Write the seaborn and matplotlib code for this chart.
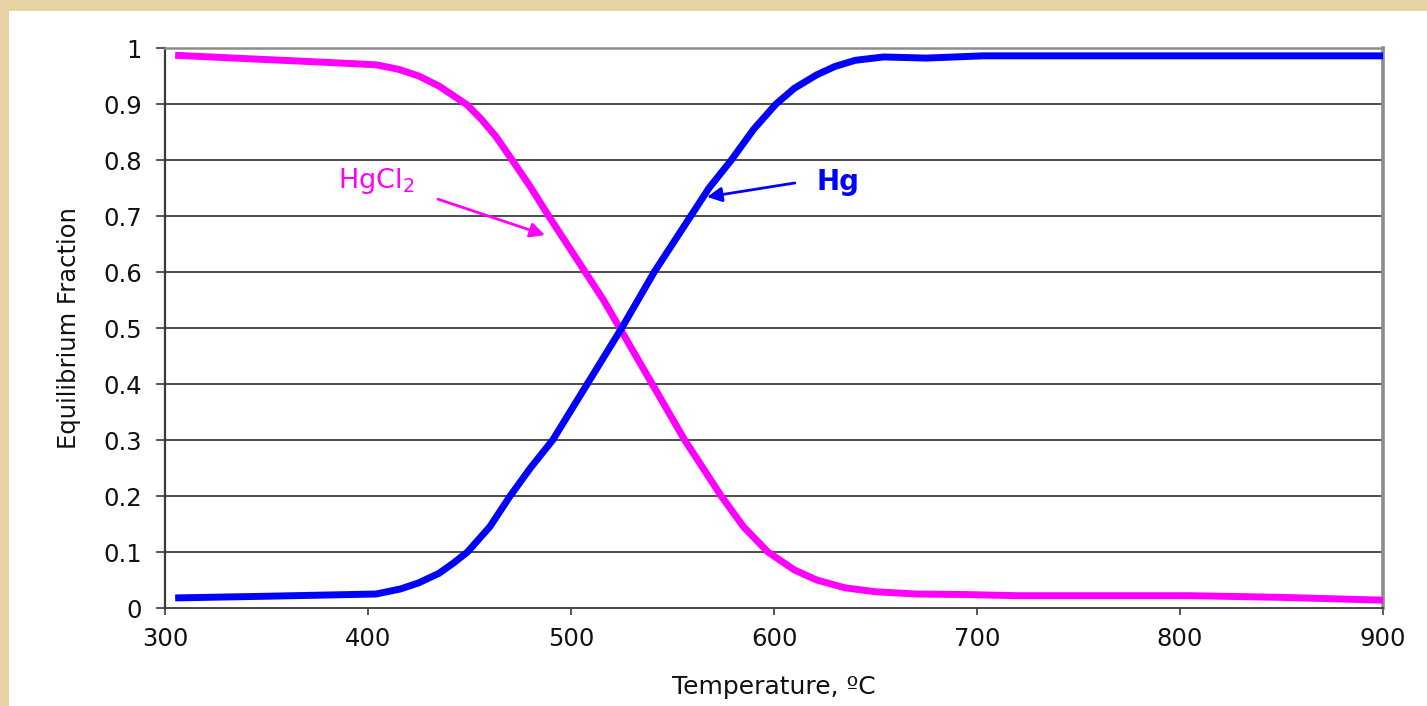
import numpy as np
import pandas as pd
import seaborn as sns
import matplotlib.pyplot as plt
from matplotlib.patches import Rectangle

# Temperature (C) and equilibrium fraction
temp_hgcl2 = [305, 340, 370, 404, 415, 425, 435, 442, 449, 456, 463, 471, 480,
              489, 498, 507, 516, 524, 532, 540, 548, 556, 565, 574, 585, 597,
              610, 621, 635, 650, 670, 695, 720, 760, 805, 850, 900]
frac_hgcl2 = [0.987, 0.981, 0.976, 0.970, 0.962, 0.950, 0.932, 0.915, 0.898,
              0.872, 0.842, 0.800, 0.752, 0.700, 0.650, 0.600, 0.550, 0.500,
              0.450, 0.400, 0.350, 0.300, 0.250, 0.200, 0.145, 0.100, 0.068,
              0.050, 0.036, 0.029, 0.025, 0.024, 0.022, 0.022, 0.022, 0.019,
              0.014]

temp_hg = [305, 350, 404, 416, 425, 435, 442, 449, 460, 470, 480, 491, 508,
           525, 541, 559, 568, 579, 590, 601, 610, 621, 630, 640, 654, 675,
           703, 750, 800, 850, 900]
frac_hg = [0.018, 0.021, 0.025, 0.034, 0.045, 0.062, 0.080, 0.100, 0.145,
           0.200, 0.250, 0.300, 0.400, 0.500, 0.600, 0.700, 0.750, 0.800,
           0.855, 0.900, 0.928, 0.952, 0.967, 0.978, 0.984, 0.982, 0.986,
           0.986, 0.986, 0.986, 0.986]

x_ticks = [300, 400, 500, 600, 700, 800, 900]
y_ticks = [0, 0.1, 0.2, 0.3, 0.4, 0.5, 0.6, 0.7, 0.8, 0.9, 1]
y_tick_labels = ['0', '0.1', '0.2', '0.3', '0.4', '0.5', '0.6', '0.7', '0.8', '0.9', '1']

sns.set_style('white')
plt.rcParams['font.family'] = ['DejaVu Sans']
plt.rcParams['mathtext.fontset'] = 'dejavusans'

fig = plt.figure(figsize=(14.27, 7.06), dpi=100)
fig.patch.set_facecolor('#E6D2A4')
# white slide panel
fig.add_artist(Rectangle((9 / 1427, 0), 1, (706 - 11) / 706,
                         transform=fig.transFigure, facecolor='white',
                         edgecolor='none', zorder=0))

ax = fig.add_axes([165 / 1427, (706 - 608) / 706, (1383 - 165) / 1427, 560 / 706])
ax.set_facecolor('white')

sns.lineplot(x=temp_hgcl2, y=frac_hgcl2, color='#FF00FF', linewidth=5,
             ax=ax, zorder=3, sort=False)
sns.lineplot(x=temp_hg, y=frac_hg, color='#0000FF', linewidth=5,
             ax=ax, zorder=4, sort=False)
for ln in ax.lines:
    ln.set_solid_joinstyle('round')
    ln.set_solid_capstyle('butt')

ax.set_xlim(300, 900)
ax.set_ylim(0, 1)
ax.set_xticks(x_ticks)
ax.set_yticks(y_ticks)
ax.set_yticklabels(y_tick_labels)

# horizontal gridlines
for y in y_ticks[1:-1]:
    ax.axhline(y, color='#262626', linewidth=1.15, zorder=1)

ax.spines['left'].set_color('#3a3a3a')
ax.spines['left'].set_linewidth(1.6)
ax.spines['bottom'].set_color('#3a3a3a')
ax.spines['bottom'].set_linewidth(1.3)
ax.spines['top'].set_color('#8c8c8c')
ax.spines['top'].set_linewidth(1.8)
ax.spines['right'].set_color('#8c8c8c')
ax.spines['right'].set_linewidth(2.6)
for s in ax.spines.values():
    s.set_visible(True)

ax.tick_params(axis='y', direction='out', length=6.5, width=1.2, color='#3a3a3a',
               pad=10, labelsize=17.5, labelcolor='#111111', left=True)
ax.tick_params(axis='x', direction='out', length=5, width=1.2, color='#3a3a3a',
               pad=9, labelsize=17.5, labelcolor='#111111', bottom=True)

ax.set_ylabel('Equilibrium Fraction', fontsize=17.5, color='#111111', labelpad=16)
ax.set_xlabel('Temperature, ºC', fontsize=18, color='#111111', labelpad=17)

# callouts
ax.text(385, 0.7625, 'HgCl$_2$', color='#FF00FF', fontsize=19.5, va='center', ha='left')
ax.annotate('', xy=(487.2, 0.666), xytext=(434.5, 0.730),
            arrowprops=dict(arrowstyle='-|>', color='#FF00FF', lw=2,
                            mutation_scale=22, shrinkA=0, shrinkB=0), zorder=5)
ax.text(620.7, 0.761, 'Hg', color='#0000FF', fontsize=20, fontweight='bold',
        va='center', ha='left')
ax.annotate('', xy=(567, 0.734), xytext=(610.3, 0.759),
            arrowprops=dict(arrowstyle='-|>', color='#0000FF', lw=2,
                            mutation_scale=22, shrinkA=0, shrinkB=0), zorder=5)

fig.savefig('out.png', dpi=100, facecolor=fig.get_facecolor())
